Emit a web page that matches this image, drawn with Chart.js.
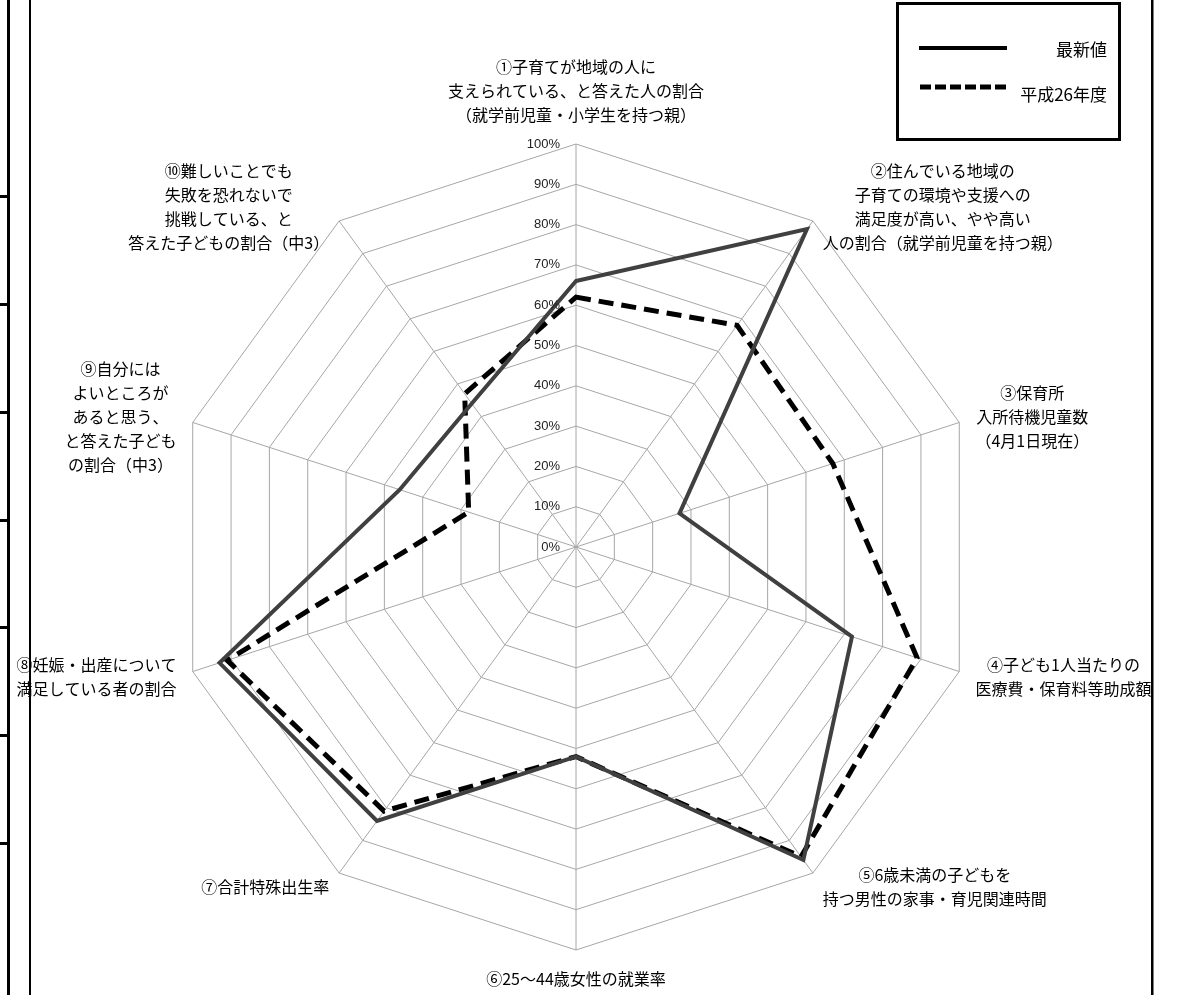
<!DOCTYPE html>
<html lang="ja">
<head>
<meta charset="utf-8">
<title>レーダーチャート</title>
<script src="https://cdn.jsdelivr.net/npm/chart.js@4.4.1/dist/chart.umd.min.js"></script>
<style>
    html, body { margin: 0; padding: 0; background: #fff; }
    #grafico { position: absolute; left: 0; top: 0; }
</style>
</head>
<body>
<canvas id="grafico" width="1184" height="995"></canvas>
<script>
const axisLabels = [
    ['①子育てが地域の人に', '支えられている、と答えた人の割合', '（就学前児童・小学生を持つ親）'],
    ['②住んでいる地域の', '子育ての環境や支援への', '満足度が高い、やや高い', '人の割合（就学前児童を持つ親）'],
    ['③保育所', '入所待機児童数', '（4月1日現在）'],
    ['④子ども1人当たりの', '医療費・保育料等助成額'],
    ['⑤6歳未満の子どもを', '持つ男性の家事・育児関連時間'],
    ['⑥25～44歳女性の就業率'],
    ['⑦合計特殊出生率'],
    ['⑧妊娠・出産について', '満足している者の割合'],
    ['⑨自分には', 'よいところが', 'あると思う、', 'と答えた子ども', 'の割合（中3）'],
    ['⑩難しいことでも', '失敗を恐れないで', '挑戦している、と', '答えた子どもの割合（中3）']
];

const seriesNames = ['最新値', '平成26年度'];
const latestValues = [66, 97.5, 27, 72, 96, 52, 84, 93, 46, 44];
const h26Values = [62, 68, 67, 89, 95, 52, 81, 91, 28, 47];

const tickMin = 0;
const tickMax = 100;
const tickStep = 10;

// texto dos eixos, escala em %, legenda e linhas da página
const extraDraw = {
    id: 'extraDraw',
    afterDraw(chart) {
        const ctx = chart.ctx;
        const scale = chart.scales.r;
        const r = scale.drawingArea;
        ctx.save();

        // rótulos 0%..100%
        ctx.font = '13px "Liberation Sans", Arial, sans-serif';
        ctx.fillStyle = '#222';
        ctx.textAlign = 'right';
        ctx.textBaseline = 'middle';
        scale.ticks.forEach((t) => {
            const y = scale.yCenter - scale.getDistanceFromCenterForValue(t.value);
            ctx.fillText(t.value + '%', scale.xCenter - 16, y);
        });

        // rótulos das categorias
        ctx.font = '16px "Noto Sans CJK JP", sans-serif';
        ctx.fillStyle = '#000';
        ctx.textAlign = 'center';
        const lh = 24;
        axisLabels.forEach((lines, i) => {
            const p = scale.getPointPosition(i, r);
            const dx = (p.x - scale.xCenter) / r;
            const dy = (p.y - scale.yCenter) / r;
            const ax = p.x + 17 * dx;
            const ay = p.y + 17 * dy;
            const w = Math.max(...lines.map((l) => ctx.measureText(l).width));
            const h = lines.length * lh;
            let cx, cy;
            if (Math.abs(dx) < 0.01) {
                cx = ax;
                cy = dy < 0 ? ay - h / 2 : ay + h / 2;
            } else {
                cx = dx > 0 ? ax + w / 2 : ax - w / 2;
                cy = ay;
            }
            lines.forEach((l, k) => ctx.fillText(l, cx, cy - h / 2 + lh / 2 + k * lh));
        });

        // legenda
        ctx.fillStyle = '#fff';
        ctx.fillRect(897, 3, 222, 136);
        ctx.strokeStyle = '#000';
        ctx.lineWidth = 3;
        ctx.strokeRect(897.5, 3.5, 222, 136);

        ctx.lineWidth = 4;
        ctx.beginPath();
        ctx.moveTo(919, 48);
        ctx.lineTo(1007, 48);
        ctx.stroke();

        ctx.lineWidth = 5;
        ctx.setLineDash([11, 4]);
        ctx.beginPath();
        ctx.moveTo(920, 87);
        ctx.lineTo(1007, 87);
        ctx.stroke();
        ctx.setLineDash([]);

        ctx.font = '17px "Noto Sans CJK JP", sans-serif';
        ctx.fillStyle = '#000';
        ctx.textAlign = 'right';
        ctx.fillText(seriesNames[0], 1107, 50);
        ctx.fillText(seriesNames[1], 1107, 95);

        // linhas da tabela do documento
        ctx.fillStyle = '#000';
        ctx.fillRect(7, 0, 3, 995);
        ctx.fillRect(29, 0, 2, 995);
        ctx.fillRect(1151, 0, 2.5, 995);
        [196, 304, 412, 520, 627, 735, 843].forEach((y) => ctx.fillRect(0, y - 1, 8, 3));

        ctx.restore();
    }
};

const cor = '#a6a6a6';

new Chart(document.getElementById('grafico'), {
    type: 'radar',
    data: {
        labels: axisLabels,
        datasets: [{
            label: seriesNames[0],
            data: latestValues,
            borderColor: '#404040',
            borderWidth: 4,
            borderJoinStyle: 'miter',
            pointRadius: 0,
            fill: false
        }, {
            label: seriesNames[1],
            data: h26Values,
            borderColor: '#000',
            borderWidth: 5,
            borderDash: [15, 8],
            borderJoinStyle: 'miter',
            pointRadius: 0,
            fill: false
        }]
    },
    options: {
        responsive: false,
        animation: false,
        layout: {
            padding: { left: 173, right: 205, top: 144, bottom: 45 }
        },
        plugins: {
            legend: { display: false },
            tooltip: { enabled: false }
        },
        scales: {
            r: {
                min: tickMin,
                max: tickMax,
                ticks: { stepSize: tickStep, display: false },
                grid: { color: cor, lineWidth: 1 },
                angleLines: { color: cor, lineWidth: 1 },
                pointLabels: { display: false }
            }
        }
    },
    plugins: [extraDraw]
});
</script>
</body>
</html>
